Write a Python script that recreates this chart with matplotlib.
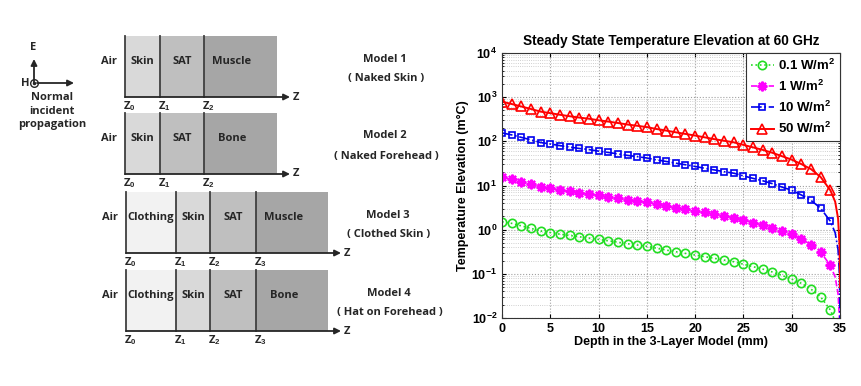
import numpy as np
import matplotlib
matplotlib.use("Agg")
import matplotlib.pyplot as plt
from matplotlib.patches import Rectangle
from matplotlib.ticker import FixedLocator, FixedFormatter, LogLocator, NullFormatter

plt.rcParams['font.family'] = ['Liberation Sans', 'DejaVu Sans']
plt.rcParams['mathtext.fontset'] = 'custom'
plt.rcParams['mathtext.rm'] = 'Liberation Sans:bold'
plt.rcParams['mathtext.it'] = 'Liberation Sans:bold'
plt.rcParams['mathtext.bf'] = 'Liberation Sans:bold'
plt.rcParams['mathtext.default'] = 'rm'

# %% Layer models (schematic, left)
model_names = ['Model 1', 'Model 2', 'Model 3', 'Model 4']
model_notes = ['( Naked Skin )', '( Naked Forehead )', '( Clothed Skin )', '( Hat on Forehead )']
model_layers = [['Skin', 'SAT', 'Muscle'],
                ['Skin', 'SAT', 'Bone'],
                ['Clothing', 'Skin', 'SAT', 'Muscle'],
                ['Clothing', 'Skin', 'SAT', 'Bone']]
layer_edges = [[125, 160, 204, 277],
               [125, 160, 204, 277],
               [126, 176, 210, 256, 328],
               [126, 176, 210, 256, 328]]
model_tops = [36, 113, 192, 270]
model_height = 61
note_x = [385, 385, 388, 389]
layer_colors = {'Clothing': '#f2f2f2', 'Skin': '#d9d9d9', 'SAT': '#bfbfbf',
                'Muscle': '#a6a6a6', 'Bone': '#a6a6a6'}

# %% Temperature elevation data (right)
depth = [0, 1, 2, 3, 4, 5, 6, 7, 8, 9, 10, 11, 12, 13, 14, 15, 16, 17, 18, 19,
         20, 21, 22, 23, 24, 25, 26, 27, 28, 29, 30, 31, 32, 33, 34,
         34.5, 34.8, 34.95, 35.0]
t_01 = [1.51, 1.39, 1.22, 1.07, 0.93, 0.86, 0.79, 0.74, 0.69, 0.645, 0.60, 0.56,
        0.52, 0.48, 0.45, 0.42, 0.38, 0.345, 0.316, 0.29, 0.266, 0.244, 0.224,
        0.205, 0.188, 0.165, 0.145, 0.128, 0.11, 0.092, 0.076, 0.061, 0.045,
        0.030, 0.0152, 0.0085, 0.0035, 0.0009, 0.0001]
t_1 = [15.3, 13.8, 12.2, 10.7, 9.3, 8.6, 7.9, 7.4, 6.9, 6.4, 6.0, 5.6,
       5.2, 4.8, 4.5, 4.2, 3.8, 3.45, 3.15, 2.9, 2.68, 2.45, 2.24,
       2.05, 1.88, 1.65, 1.45, 1.28, 1.1, 0.92, 0.78, 0.61, 0.46,
       0.31, 0.155, 0.085, 0.035, 0.009, 0.001]
t_10 = [155, 140, 123, 108, 94, 87, 80, 74, 69, 65, 60, 56,
        52, 48, 45, 42, 38, 35, 32, 29.5, 27, 24.5, 22.5,
        20.5, 19, 16.5, 14.5, 12.8, 11, 9.2, 7.8, 6.1, 4.6,
        3.05, 1.55, 0.85, 0.35, 0.09, 0.01]
t_50 = [790, 700, 615, 540, 470, 435, 400, 370, 345, 325, 300, 280,
        260, 240, 225, 210, 190, 175, 160, 147, 135, 123, 112,
        103, 95, 83, 73, 64, 55, 46, 38.5, 30.5, 23.5,
        15.5, 7.8, 4.3, 1.8, 0.45, 0.05]
series_labels = ['0.1 W/m$^2$', '1 W/m$^2$', '10 W/m$^2$', '50 W/m$^2$']
y_decades = [1e-2, 1e-1, 1e0, 1e1, 1e2, 1e3, 1e4]
y_decade_labels = ['$10^{-2}$', '$10^{-1}$', '$10^{0}$', '$10^{1}$',
                   '$10^{2}$', '$10^{3}$', '$10^{4}$']

fig = plt.figure(figsize=(8.62, 3.86), dpi=100)

# %% Left: schematic of the layer models
ax0 = fig.add_axes([0, 0, 440 / 862, 1])
ax0.set_xlim(0, 440)
ax0.set_ylim(386, 0)
ax0.axis('off')
dfont = ['Open Sans', 'DejaVu Sans']
tkw = dict(family=dfont, fontweight='bold', fontsize=8, color='#262626')
arw = dict(arrowstyle='-|>', color='#262626', lw=1.3, mutation_scale=9,
           shrinkA=0, shrinkB=0)

for name, note, layers, edges, top, nx in zip(model_names, model_notes, model_layers,
                                              layer_edges, model_tops, note_x):
    bot = top + model_height
    mid = top + model_height / 2 - 5
    for lay, x0, x1 in zip(layers, edges[:-1], edges[1:]):
        ax0.add_patch(Rectangle((x0, top), x1 - x0, model_height,
                                facecolor=layer_colors[lay], edgecolor='none'))
        ax0.text((x0 + x1) / 2 if lay not in ('Muscle', 'Bone') else x0 + 28, mid, lay,
                 ha='center', va='center', **tkw)
        ax0.plot([x0, x0], [top, bot], color='#404040', lw=1.3)
    for k, x0 in enumerate(edges[:-1]):
        ax0.text(x0 - 2, bot + 9, 'Z$_{%d}$' % k, ha='left', va='center', **tkw)
    ax0.annotate('', xy=(edges[-1] + 13, bot), xytext=(edges[0], bot), arrowprops=arw)
    ax0.text(edges[-1] + 16, bot, 'Z', ha='left', va='center', **tkw)
    ax0.text(edges[0] - 16, mid, 'Air', ha='center', va='center', **tkw)
    ax0.text(nx, top + 23, name, ha='center', va='center', **tkw)
    ax0.text(nx + 1, top + 43, note, ha='center', va='center', **tkw)

# field directions
ax0.annotate('', xy=(34, 59), xytext=(34, 83), arrowprops=arw)
ax0.annotate('', xy=(74, 83), xytext=(37, 83), arrowprops=arw)
ax0.plot(34, 83, 'o', ms=5.5, mfc='white', mec='#262626', mew=1)
ax0.plot(34, 83, 'o', ms=1.5, color='#262626')
ax0.text(33, 47, 'E', ha='center', va='center', **tkw)
ax0.text(25, 83, 'H', ha='center', va='center', **tkw)
ax0.text(52, 97, 'Normal', ha='center', va='center', **tkw)
ax0.text(52, 111, 'incident', ha='center', va='center', **tkw)
ax0.text(52, 125, 'propagation', ha='center', va='center', **tkw)

# %% Right: temperature elevation vs depth
ax = fig.add_axes([502 / 862, 1 - 318 / 386, 338 / 862, 265 / 386])
marks = list(range(35))
ax.plot(depth, t_01, ls=':', color='#22dd22', lw=1.2, marker='o', ms=6,
        mfc='none', mew=1.2, markevery=marks, label=series_labels[0])
ax.plot(depth, t_1, ls='--', color='#ff00ff', lw=1.2, marker=(8, 2, 0), ms=7,
        mew=1.6, markevery=marks, label=series_labels[1])
ax.plot(depth, t_10, ls='-.', color='#0000ee', lw=1.2, marker='s', ms=5,
        mfc='none', mew=1.2, markevery=marks, label=series_labels[2])
ax.plot(depth, t_50, ls='-', color='#ff0000', lw=1.4, marker='^', ms=6.5,
        mfc='none', mew=1.2, markevery=marks, label=series_labels[3])

ax.set_yscale('log')
ax.set_xlim(0, 35)
ax.set_ylim(1e-2, 1e4)
ax.set_xticks(range(0, 36, 5))
ax.yaxis.set_major_locator(FixedLocator(y_decades))
ax.yaxis.set_major_formatter(FixedFormatter(y_decade_labels))
ax.yaxis.set_minor_locator(LogLocator(base=10, subs=np.arange(2, 10), numticks=20))
ax.yaxis.set_minor_formatter(NullFormatter())
ax.grid(True, which='major', ls=':', color='#a0a0a0', lw=0.8)
ax.grid(True, which='minor', axis='y', ls=':', color='#c0c0c0', lw=0.6)
ax.tick_params(which='both', direction='in', top=True, right=True, labelsize=9)
ax.tick_params(which='major', length=3)
ax.tick_params(which='minor', length=1.5)
for lab in ax.get_xticklabels():
    lab.set_fontweight('bold')
for s in ax.spines.values():
    s.set_color('#333333')
    s.set_linewidth(0.8)

ax.set_title('Steady State Temperature Elevation at 60 GHz', fontsize=9.8,
             fontweight='bold', pad=6)
ax.set_xlabel('Depth in the 3-Layer Model (mm)', fontsize=9, fontweight='bold', labelpad=1)
ax.set_ylabel('Temperature Elevation (m\u00b0C)', fontsize=9, fontweight='bold', labelpad=2)

leg = ax.legend(loc='upper right', prop={'weight': 'bold', 'size': 9.5},
                frameon=True, fancybox=False, borderaxespad=0, handlelength=1.8,
                labelspacing=0.45, borderpad=0.35, handletextpad=0.3)
leg.get_frame().set_edgecolor('#333333')
leg.get_frame().set_linewidth(0.8)
leg.get_frame().set_alpha(1)

fig.savefig('out.png', dpi=100)
